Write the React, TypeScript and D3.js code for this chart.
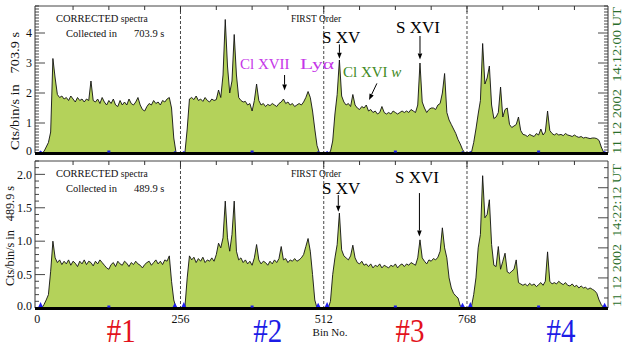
import React from 'react';
import * as d3 from 'd3';

const BIN_STEP = 4;

// counts per 4-bin step, bins 0..1020 (top panel, 703.9 s)
const topCounts = [
  0,0,0,0.05,0.2,0.35,0.7,3.15,2.5,1.95,
  1.85,1.9,1.8,1.85,1.75,1.9,1.8,1.7,1.85,1.75,
  1.8,1.7,1.8,1.75,2.4,1.75,1.7,1.8,1.65,1.85,
  1.7,1.6,1.75,1.65,1.8,1.6,1.55,1.75,1.6,1.7,
  1.6,1.8,1.65,1.6,1.7,1.85,1.6,1.45,1.4,1.55,
  1.65,1.6,1.75,1.65,1.7,1.6,1.75,1.7,1.8,1.85,
  1.5,0.5,0.02,0,
  0,0,0.02,0.8,1.8,1.85,1.78,1.9,1.75,1.8,
  1.72,1.85,1.75,1.7,1.8,1.75,1.78,2.1,1.85,2.6,
  4.45,2.9,2.0,2.4,3.95,2.6,1.85,1.75,1.7,1.72,
  1.6,1.65,1.4,1.75,2.3,1.75,1.6,1.65,1.55,1.62,
  1.58,1.65,1.6,1.55,1.65,1.7,1.8,1.65,1.7,1.6,
  1.65,1.55,1.6,1.65,1.6,1.7,1.85,2.05,1.85,1.4,
  0.8,0.25,0.02,0,
  0,0,0,0.05,0.4,1.3,1.95,3.1,1.9,1.7,
  1.6,1.65,1.55,1.95,1.6,1.5,1.45,1.55,1.5,1.6,
  1.4,1.45,1.35,1.4,1.3,1.35,1.55,1.35,1.3,1.35,
  1.3,1.4,1.35,1.3,1.35,1.4,1.35,1.4,1.35,1.45,
  1.4,1.35,1.6,3.0,1.7,1.5,1.35,1.45,1.5,1.5,
  1.45,1.6,1.65,2.0,2.65,1.35,1.1,0.95,0.8,0.65,
  0.45,0.3,0.12,0,
  0,0,0.02,0.35,0.8,1.3,1.75,3.65,2.3,2.5,
  2.9,1.6,1.15,1.2,1.35,2.2,1.2,1.45,1.5,0.95,
  0.85,0.9,0.95,1.2,0.75,0.62,0.6,0.55,0.62,0.58,
  0.55,0.65,0.6,0.8,0.6,0.7,1.4,0.75,0.65,0.6,
  0.65,0.6,0.62,0.58,0.65,0.6,0.58,0.55,0.6,0.55,
  0.52,0.55,0.5,0.52,0.5,0.48,0.5,0.5,0.48,0.42,
  0.2,0.03,0,0,
];

// bottom panel, 489.9 s
const bottomCounts = [
  0,0,0,0.05,0.12,0.2,0.55,1.0,0.75,0.68,
  0.72,0.65,0.7,0.66,0.72,0.64,0.7,0.67,0.62,0.7,
  0.66,0.72,0.65,0.7,0.68,0.63,0.7,0.66,0.72,0.68,
  0.64,0.6,0.58,0.65,0.68,0.62,0.7,0.66,0.64,0.7,
  0.67,0.62,0.68,0.65,0.7,0.66,0.64,0.6,0.65,0.68,
  0.7,0.64,0.68,0.72,0.66,0.7,0.65,0.72,0.7,0.78,
  0.4,0.12,0,0,
  0,0,0.02,0.45,0.78,0.72,0.76,0.68,0.74,0.7,
  0.76,0.68,0.72,0.7,0.75,0.7,0.8,0.97,0.9,1.05,
  1.6,1.05,0.85,1.1,1.6,0.85,0.72,0.75,0.68,0.72,
  0.66,0.7,0.64,0.75,0.95,0.72,0.66,0.7,0.68,0.64,
  0.7,0.66,0.72,0.68,0.74,0.92,0.72,0.74,0.68,0.72,
  0.7,0.74,0.7,0.72,0.75,0.8,0.92,1.04,0.85,0.5,
  0.12,0,0,0,
  0,0,0,0.1,0.5,0.75,0.95,1.42,0.87,0.78,
  0.75,0.72,0.78,0.94,0.75,0.68,0.66,0.7,0.64,0.66,
  0.62,0.66,0.6,0.64,0.62,0.66,0.6,0.64,0.62,0.6,
  0.64,0.62,0.66,0.6,0.64,0.66,0.62,0.66,0.64,0.68,
  0.66,0.64,0.75,1.02,0.75,0.7,0.66,0.72,0.7,0.74,
  0.72,0.76,0.85,1.2,0.9,0.75,0.45,0.3,0.22,0.18,
  0.15,0.03,0,0,
  0,0,0.02,0.2,0.45,0.9,1.1,1.98,1.35,1.4,
  1.62,0.95,0.64,0.62,0.92,0.58,0.7,0.82,0.54,0.52,
  0.55,0.58,0.72,0.38,0.36,0.34,0.36,0.33,0.37,0.34,
  0.36,0.32,0.35,0.38,0.34,0.4,0.84,0.4,0.36,0.38,
  0.36,0.4,0.37,0.35,0.38,0.34,0.33,0.36,0.32,0.34,
  0.3,0.33,0.3,0.31,0.28,0.3,0.28,0.26,0.22,0.12,
  0.05,0.01,0,0,
];

const dividerBins = [256, 512, 768];
const xLabelBins = [0, 256, 512, 768];
const topTickBins = [64,128,192,256,320,384,448,512,576,640,704,768,832,896,960];
const blueBumpBins = [6, 246, 262, 502, 518, 760, 774, 1014];
const blueBumpTop = [0.08, 0.07, 0.07, 0.07, 0.07, 0.07, 0.07, 0.07];
const blueBumpBottom = [0.09, 0.08, 0.09, 0.08, 0.09, 0.08, 0.09, 0.08];
const blueDotBins = [128, 384, 640, 896];

const topYTicks = [0, 1, 2, 3, 4];
const bottomYTicks = [0, 0.5, 1.0, 1.5, 2.0];

const segLabels = ['#1', '#2', '#3', '#4'];
const segBins = [150, 412, 666, 936];
const segColors = ['#e3121c', '#1c1ce6', '#e3121c', '#1c1ce6'];

const FONT = "'Liberation Serif', 'Times New Roman', serif";
const FILL = '#b4d25a';
const X_LEFT = 35;
const X_RIGHT = 608;

const x = d3.scaleLinear().domain([-4, 1020]).range([X_LEFT, X_RIGHT]);

type Annotation = {
  label: string; bin: number; tail: number; tip: number; tailBin?: number;
  tx: number; ty: number; size: number; color?: string;
};

type PanelProps = {
  counts: number[];
  yMax: number;
  top: number;
  bottom: number;
  yTicks: number[];
  majorStep: number;
  fmt: (v: number) => string;
  labelX: number;
  blueHeights: number[];
  rightStep: number;
  rightMajorEvery: number;
  annotations: Annotation[];
  corrY: number;
  collected: string;
  firstY: number;
  leftTitle: string;
  leftLen: number;
  leftFont: number;
  leftX: number;
  leftCenter: number;
  rightTitle: string;
  rightLen: number;
};

function Arrow({ x1, y1, x2, y2 }: { x1: number; y1: number; x2: number; y2: number }) {
  const ang = Math.atan2(y2 - y1, x2 - x1);
  const L = 6, W = 2.3;
  const bx = x2 - L * Math.cos(ang), by = y2 - L * Math.sin(ang);
  const px = -Math.sin(ang) * W, py = Math.cos(ang) * W;
  return (
    <g>
      <line x1={x1} y1={y1} x2={bx} y2={by} stroke="#000" strokeWidth={1} />
      <path d={`M${x2},${y2}L${bx + px},${by + py}L${bx - px},${by - py}Z`} fill="#000" />
    </g>
  );
}

function AnnotationText({ a }: { a: Annotation }) {
  const common = { fontFamily: FONT, fontSize: a.size, fill: a.color || '#000' };
  if (a.label === 'Cl XVII  Lyα') {
    return (
      <g>
        <text x={a.tx} y={a.ty} {...common}>Cl XVII</text>
        <text x={a.tx + 60} y={a.ty} {...common} textLength={34} lengthAdjust="spacingAndGlyphs">Lyα</text>
      </g>
    );
  }
  if (a.label === 'Cl XVI w') {
    return (
      <text x={a.tx} y={a.ty} {...common}>
        Cl XVI <tspan fontStyle="italic">w</tspan>
      </text>
    );
  }
  return <text x={a.tx} y={a.ty} {...common}>{a.label}</text>;
}

function Panel(p: PanelProps) {
  const y = d3.scaleLinear().domain([0, p.yMax]).range([p.bottom, p.top]);
  const area = d3.area<number>().x((_, i) => x(i * BIN_STEP)).y0(y(0)).y1((d) => y(d));
  const line = d3.line<number>().x((_, i) => x(i * BIN_STEP)).y((d) => y(d));
  const minor = d3.range(0, p.yMax + 1e-9, 0.1);
  const rightTicks = d3.range(0, p.yMax + 1e-9, p.rightStep);
  const bump = d3.area<[number, number]>().x((d) => x(d[0])).y0(y(0)).y1((d) => y(d[1]));
  const y0 = y(0);
  return (
    <g>
      <path d={area(p.counts) || ''} fill={FILL} />
      <path d={line(p.counts) || ''} fill="none" stroke="#111" strokeWidth={0.9} />
      {blueBumpBins.map((b, i) => (
        <path key={'bb' + i} d={bump([[b - 5, 0], [b, p.blueHeights[i]], [b + 5, 0]]) || ''} fill="#1c1cf0" />
      ))}
      {dividerBins.map((b) => (
        <line key={'dv' + b} x1={x(b)} x2={x(b)} y1={p.top} y2={y0} stroke="#333" strokeWidth={0.9} strokeDasharray="3,2" />
      ))}
      <line x1={X_LEFT} x2={X_RIGHT} y1={p.top} y2={p.top} stroke="#444" strokeWidth={1} />
      <line x1={X_LEFT} x2={X_LEFT} y1={p.top} y2={y0} stroke="#333" strokeWidth={1} />
      <line x1={X_RIGHT} x2={X_RIGHT} y1={p.top} y2={y0} stroke="#333" strokeWidth={1} />
      {topTickBins.map((b) => (
        <line key={'tt' + b} x1={x(b)} x2={x(b)} y1={p.top} y2={p.top + (b % 256 === 0 ? 6 : 4)} stroke="#333" />
      ))}
      {minor.map((v, i) => {
        const isMajor = Math.abs(v / p.majorStep - Math.round(v / p.majorStep)) < 1e-6;
        return (
          <line key={'ml' + i} x1={X_LEFT} x2={X_LEFT + (isMajor ? 10 : 4)} y1={y(v)} y2={y(v)} stroke="#333" strokeWidth={0.9} />
        );
      })}
      {rightTicks.map((v, i) => (
        <line key={'rt' + i} x1={X_RIGHT} x2={X_RIGHT - (i % p.rightMajorEvery === 0 ? 10 : 4)} y1={y(v)} y2={y(v)} stroke="#333" strokeWidth={0.9} />
      ))}
      {p.yTicks.map((v) => (
        <text key={'yl' + v} x={p.labelX} y={v === 0 ? y(v) - 2 : y(v)} dy="0.35em" textAnchor="end" fontFamily={FONT} fontSize={12} fill="#111">
          {p.fmt(v)}
        </text>
      ))}
      <rect x={X_LEFT} y={y0 - 1} width={X_RIGHT - X_LEFT} height={3} fill="#000" />
      {blueDotBins.map((b) => (
        <rect key={'bd' + b} x={x(b) - 1.5} y={y0 - 2.5} width={3} height={2} fill="#1c1cf0" />
      ))}
      <text x={56} y={p.corrY} fontFamily={FONT} fontSize={10.5} fill="#111">
        CORRECTED<tspan fontSize={9.5}> spectra</tspan>
      </text>
      <text x={66} y={p.corrY + 15} fontFamily={FONT} fontSize={10.5} fill="#111">Collected in</text>
      <text x={134} y={p.corrY + 15} fontFamily={FONT} fontSize={10.5} fill="#111">{p.collected}</text>
      <text x={316} y={p.firstY} textAnchor="middle" fontFamily={FONT} fontSize={9.5} fill="#111">FIRST Order</text>
      {p.annotations.map((a, i) => (
        <g key={'an' + i}>
          <AnnotationText a={a} />
          <Arrow x1={x(a.tailBin ?? a.bin)} y1={y(a.tail)} x2={x(a.bin)} y2={y(a.tip)} />
        </g>
      ))}
      <text transform={`translate(${p.leftX},${p.leftCenter}) rotate(-90)`} textAnchor="middle" fontFamily={FONT} fontSize={p.leftFont} fill="#111" textLength={p.leftLen} lengthAdjust="spacingAndGlyphs" xmlSpace="preserve">
        {p.leftTitle}
      </text>
      <text transform={`translate(621,${(p.top + p.bottom) / 2 + 1}) rotate(-90)`} textAnchor="middle" fontFamily={FONT} fontSize={13} fill="#2b6e2b" textLength={p.rightLen} lengthAdjust="spacingAndGlyphs" xmlSpace="preserve">
        {p.rightTitle}
      </text>
    </g>
  );
}

export default function App() {
  return (
    <div style={{ position: 'absolute', left: 0, top: 0 }}>
      <svg width={632} height={350} style={{ display: 'block', background: '#fff' }}>
        <Panel
          counts={topCounts}
          yMax={4.9}
          top={6}
          bottom={153}
          yTicks={topYTicks}
          majorStep={1}
          fmt={(v) => d3.format('d')(v)}
          labelX={32}
          blueHeights={blueBumpTop}
          rightStep={0.1}
          rightMajorEvery={10}
          corrY={22}
          collected="703.9 s"
          firstY={22}
          leftTitle="Cts/bin/s in   703.9 s"
          leftLen={118}
          leftFont={13}
          leftX={19}
          leftCenter={91}
          rightTitle="11 12 2002  14:12:00 UT"
          rightLen={147}
          annotations={[
            { label: 'S XV', bin: 540, tail: 3.62, tip: 3.14, tx: 322, ty: 43, size: 17 },
            { label: 'S XVI', bin: 684, tail: 3.9, tip: 3.12, tx: 396, ty: 33, size: 17 },
            { label: 'Cl XVII  Lyα', bin: 442, tail: 2.6, tip: 2.08, tx: 240, ty: 69, size: 15, color: '#c535e8' },
            { label: 'Cl XVI w', bin: 593, tailBin: 607, tail: 2.32, tip: 1.77, tx: 343, ty: 77, size: 15, color: '#3f8a1e' },
          ]}
        />
        <Panel
          counts={bottomCounts}
          yMax={2.2}
          top={161}
          bottom={308}
          yTicks={bottomYTicks}
          majorStep={0.5}
          fmt={(v) => d3.format('.1f')(v)}
          labelX={32}
          blueHeights={blueBumpBottom}
          rightStep={0.15}
          rightMajorEvery={3}
          corrY={177}
          collected="489.9 s"
          firstY={177}
          leftTitle="Cts/bin/s in   489.9 s"
          leftLen={100}
          leftFont={11.5}
          leftX={14}
          leftCenter={236}
          rightTitle="11 12 2002  14:22:12 UT"
          rightLen={143}
          annotations={[
            { label: 'S XV', bin: 538, tail: 1.69, tip: 1.44, tx: 322, ty: 194, size: 17 },
            { label: 'S XVI', bin: 683, tail: 1.72, tip: 1.07, tx: 395, ty: 183, size: 17 },
          ]}
        />
        {xLabelBins.map((b) => (
          <text key={'xl' + b} x={x(b)} y={323} textAnchor="middle" fontFamily={FONT} fontSize={12} fill="#111">
            {b}
          </text>
        ))}
        <text x={330} y={336} textAnchor="middle" fontFamily={FONT} fontSize={11} fill="#111">Bin No.</text>
        {segLabels.map((s, i) => (
          <text key={s} transform={`translate(${x(segBins[i])},342) scale(1,1.2)`} textAnchor="middle" fontFamily={FONT} fontSize={28} fill={segColors[i]} textLength={29} lengthAdjust="spacingAndGlyphs">
            {s}
          </text>
        ))}
      </svg>
    </div>
  );
}
